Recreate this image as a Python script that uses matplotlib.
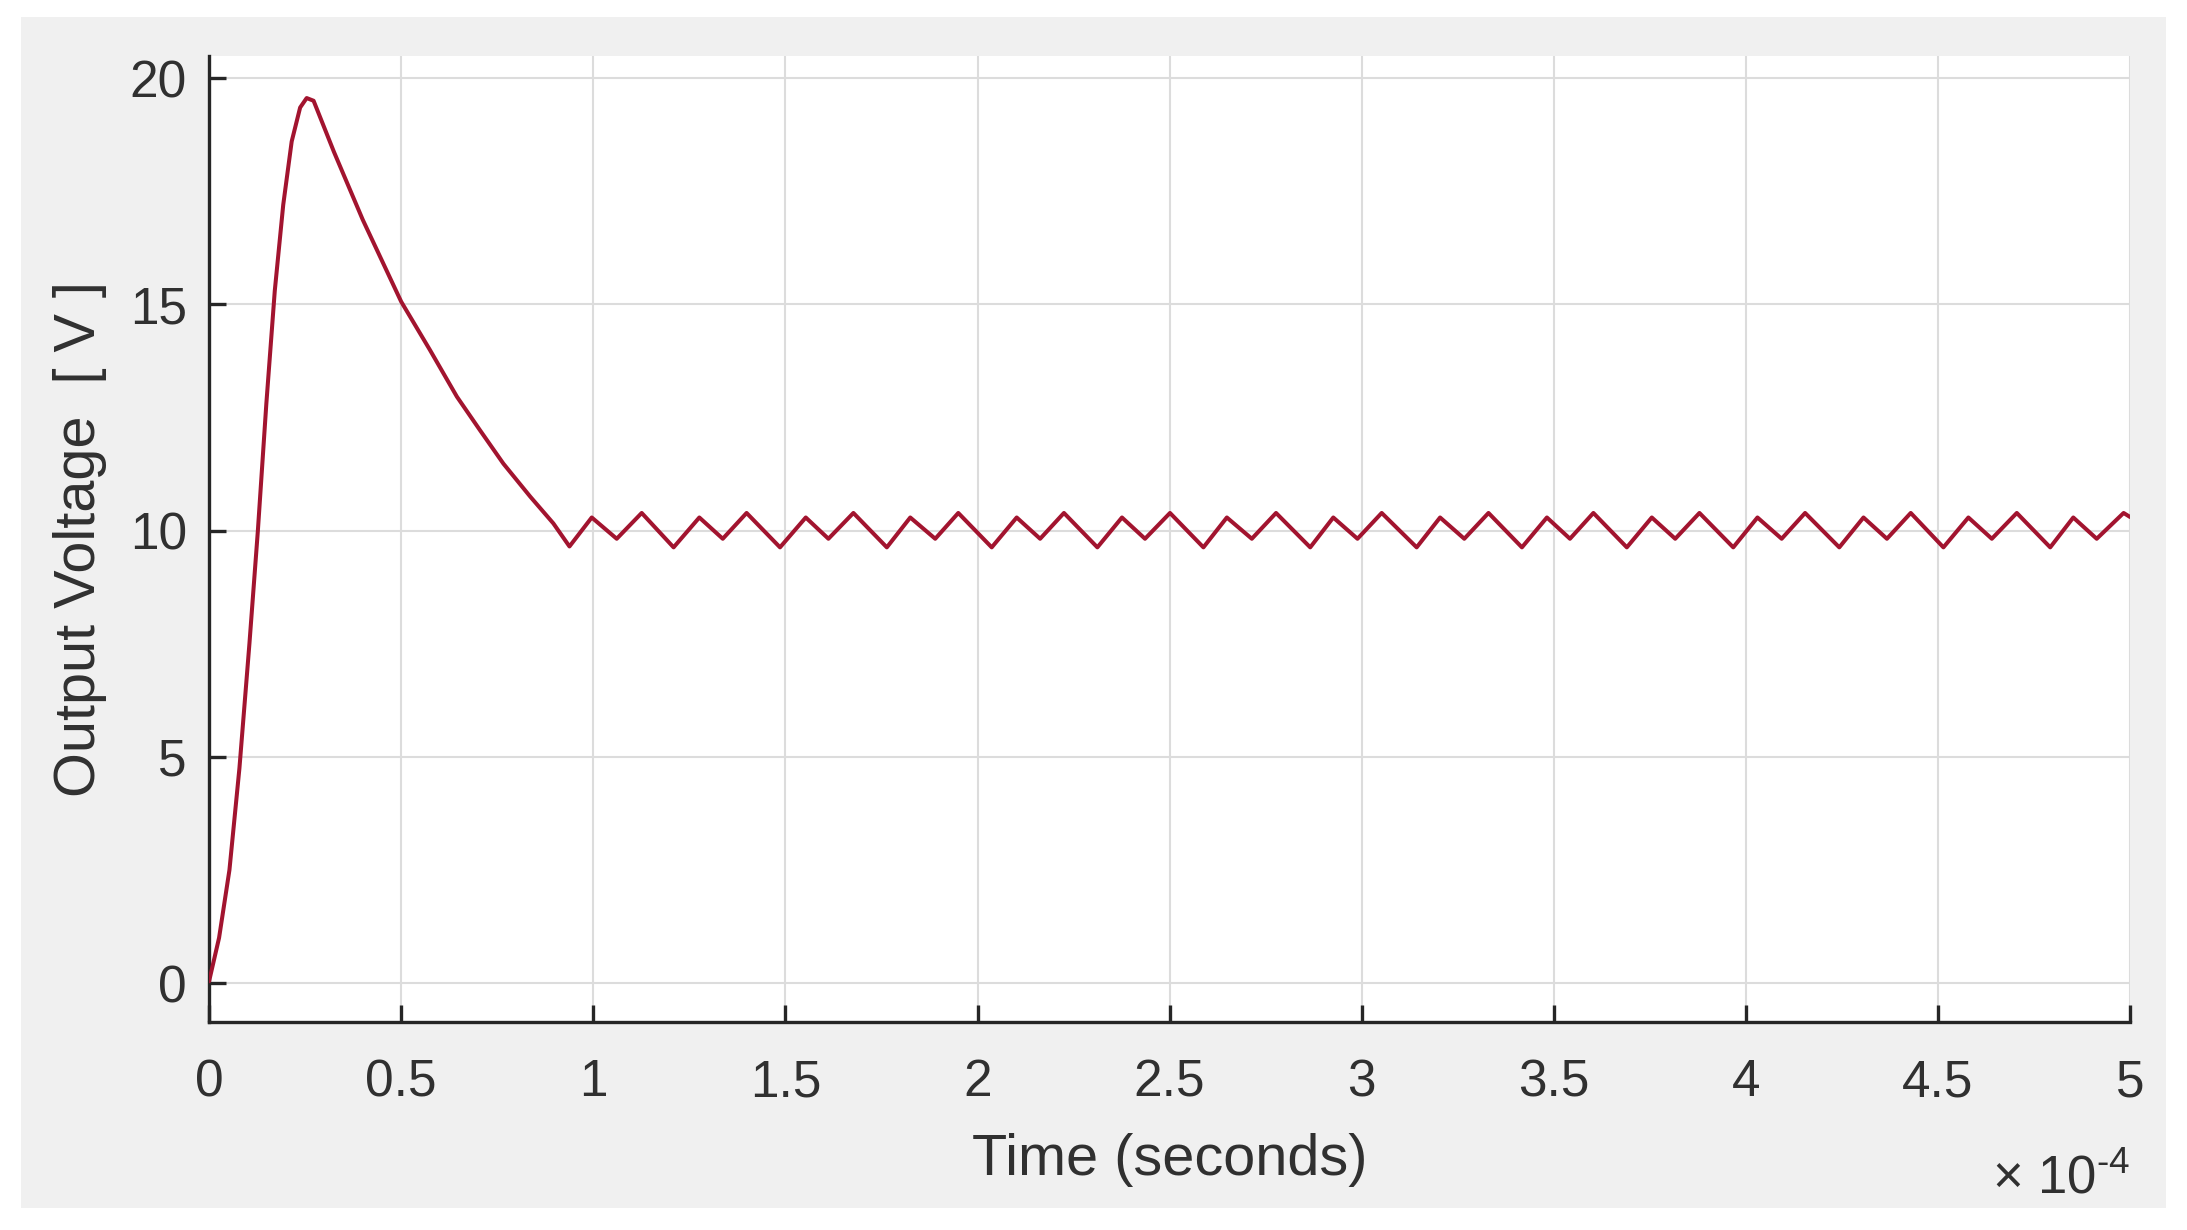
#!/usr/bin/env python3
"""Output voltage transient of a converter, MATLAB-style figure."""

import matplotlib

matplotlib.use("Agg")
import matplotlib.pyplot as plt
from matplotlib.patches import Rectangle
from matplotlib.ticker import FuncFormatter

plt.rcParams["font.family"] = ["Liberation Sans", "DejaVu Sans"]
plt.rcParams["mathtext.fontset"] = "custom"
plt.rcParams["mathtext.rm"] = "Liberation Sans"

# time in units of 1e-4 s, voltage in V
time_e4 = [
    0.0, 0.026, 0.053, 0.079, 0.105, 0.127, 0.149, 0.171, 0.193, 0.215,
    0.237, 0.254, 0.272, 0.325, 0.4, 0.5, 0.575, 0.645, 0.705, 0.766,
    0.836, 0.896, 0.938,
    0.996, 1.061, 1.126, 1.209, 1.276, 1.337, 1.399, 1.486, 1.553, 1.612,
    1.677, 1.764, 1.825, 1.890, 1.950, 2.037, 2.102, 2.163, 2.225, 2.312,
    2.376, 2.436, 2.501, 2.588, 2.649, 2.714, 2.777, 2.866, 2.926, 2.989,
    3.052, 3.143, 3.204, 3.267, 3.330, 3.417, 3.482, 3.542, 3.603, 3.690,
    3.755, 3.816, 3.879, 3.967, 4.030, 4.093, 4.154, 4.243, 4.306, 4.367,
    4.429, 4.514, 4.579, 4.640, 4.705, 4.792, 4.852, 4.913, 4.983, 5.0,
]
voltage = [
    0.04, 1.0, 2.5, 4.75, 7.5, 10.0, 12.8, 15.3, 17.2, 18.6,
    19.35, 19.56, 19.5, 18.37, 16.87, 15.06, 13.99, 12.96, 12.22, 11.48,
    10.75, 10.16, 9.65,
    10.29, 9.82, 10.39, 9.63, 10.29, 9.82, 10.39, 9.63, 10.29, 9.82,
    10.39, 9.63, 10.29, 9.82, 10.39, 9.63, 10.29, 9.82, 10.39, 9.63,
    10.29, 9.82, 10.39, 9.63, 10.29, 9.82, 10.39, 9.63, 10.29, 9.82,
    10.39, 9.63, 10.29, 9.82, 10.39, 9.63, 10.29, 9.82, 10.39, 9.63,
    10.29, 9.82, 10.39, 9.63, 10.29, 9.82, 10.39, 9.63, 10.29, 9.82,
    10.39, 9.63, 10.29, 9.82, 10.39, 9.63, 10.29, 9.82, 10.39, 10.3,
]

x_ticks_e4 = [0, 0.5, 1, 1.5, 2, 2.5, 3, 3.5, 4, 4.5, 5]
y_ticks = [0, 5, 10, 15, 20]

TEXT = "#262626"
LABEL = "#303030"
LINE = "#A2142F"
GRID = "#dcdcdc"

fig = plt.figure(figsize=(21.87, 12.30), dpi=100, facecolor="white")
# grey MATLAB figure panel behind the axes
fig.patches.append(Rectangle((0.0096, 0.0179), 0.9808, 0.9683, transform=fig.transFigure,
                             facecolor="#f0f0f0", edgecolor="none", zorder=-10))

ax = fig.add_axes([0.0956, 0.1691, 0.8784, 0.7854])
ax.set_facecolor("white")

ax.plot([t * 1e-4 for t in time_e4], voltage, color=LINE, linewidth=2.9,
        solid_joinstyle="round", solid_capstyle="round", zorder=3)

ax.set_xlim(0, 5e-4)
ax.set_ylim(-0.86, 20.49)
ax.set_xticks([t * 1e-4 for t in x_ticks_e4])
ax.set_yticks(y_ticks)
ax.xaxis.set_major_formatter(FuncFormatter(lambda v, pos: f"{v * 1e4:g}"))

ax.grid(True, color=GRID, linewidth=1.5)
ax.set_axisbelow(True)
for side in ("top", "right"):
    ax.spines[side].set_visible(False)
for side in ("left", "bottom"):
    ax.spines[side].set_color(TEXT)
    ax.spines[side].set_linewidth(2.4)

ax.tick_params(axis="both", direction="in", length=12, width=2.4, color=TEXT,
               labelcolor=LABEL, labelsize=37)
ax.tick_params(axis="x", pad=26)
ax.tick_params(axis="y", pad=16)

ax.set_xlabel("Time (seconds)", fontsize=41.5, color=LABEL, va="center")
ax.xaxis.set_label_coords(0.5, -0.143)
ax.set_ylabel("Output Voltage  [ V ]", fontsize=41.5, color=LABEL, va="center")
ax.yaxis.set_label_coords(-0.067, 0.5)

# MATLAB-style exponent below the right end of the x axis (hyphen, not minus)
exponent = "\u00d7 $\\mathregular{10^{\u20104}}$"
ax.text(1.0, -0.163, exponent, transform=ax.transAxes,
        ha="right", va="center", fontsize=38, color=LABEL)

fig.savefig("out.png", dpi=100, facecolor=fig.get_facecolor())
